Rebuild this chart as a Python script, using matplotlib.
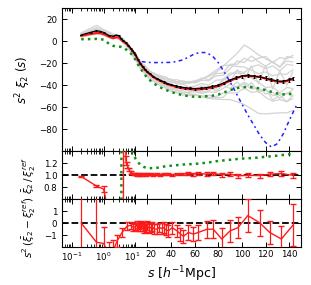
import numpy as np
import matplotlib
matplotlib.use('Agg')
import matplotlib.pyplot as plt
from matplotlib.transforms import ScaledTranslation

# --- top panel: s^2 xi_2(s) ---
s_top = [0.2, 0.4, 0.6, 0.8, 1.0, 1.5, 2.0, 2.5, 3.0, 3.5, 4.0, 5.0, 6.0, 7.0, 8.0, 9.0,
         10, 12, 14, 16, 18, 20, 22, 25, 28, 31,
         34, 37, 40, 44, 48, 52, 56, 60, 65, 70,
         75, 80, 85, 90, 95, 100, 105, 110, 115, 120,
         125, 130, 135, 140, 143]
xi_ref = [5.5, 8.0, 9.3, 8.8, 7.8, 5.0, 4.5, 5.5, 5.0, 2.5, 0.8, -1.5, -4.0, -6.5, -8.5, -10.5,
          -12.5, -16.5, -20, -23, -25.5, -27.7, -29.5, -32, -34, -35.5,
          -37, -38.5, -39.5, -40.7, -41.7, -42.3, -42.8, -43, -42.8, -42.2,
          -41.2, -40, -37.8, -35.3, -33.3, -31.8, -31.3, -31.8, -32.6, -33.6,
          -35, -36.3, -36.5, -35, -34]
xi_ref_err = [0.3, 0.3, 0.3, 0.3, 0.3, 0.3, 0.3, 0.3, 0.3, 0.3, 0.3, 0.3, 0.3, 0.3, 0.3, 0.3,
              0.4, 0.4, 0.4, 0.4, 0.5, 0.5, 0.5, 0.5, 0.6, 0.6,
              0.6, 0.7, 0.7, 0.7, 0.8, 0.8, 0.8, 0.9, 0.9, 1.0,
              1.0, 1.1, 1.1, 1.2, 1.2, 1.3, 1.3, 1.4, 1.4, 1.5,
              1.5, 1.6, 1.6, 1.7, 1.7]
xi_mean = [4.8, 6.5, 7.3, 7.2, 6.3, 3.8, 2.5, 3.5, 3.3, 1.4, -0.2, -2.0, -4.3, -6.7, -8.7, -10.7,
           -12.7, -16.7, -20.3, -23.4, -26, -28.2, -30, -32.6, -34.6, -36.1,
           -37.6, -39.1, -40.2, -41.4, -42.4, -43, -43.6, -43.8, -43.6, -43,
           -42, -40.8, -38.5, -36, -33.8, -31.9, -31.4, -32, -32.5, -34,
           -35.5, -36.8, -37, -35.6, -34.5]

s_green = [0.2, 0.4, 0.6, 0.8, 1.0, 1.5, 2.0, 2.5, 3.0, 3.5, 4.0, 5.0, 6.0, 7.0, 8.0,
           10, 12, 14, 17, 20, 25, 30, 35, 40, 45,
           50, 55, 60, 65, 70, 75, 80, 85, 90, 95,
           100, 105, 110, 115, 120, 125, 130, 135, 140, 143]
xi_green = [1.7, 1.8, 2.0, 1.8, 1.2, -2.5, -4.3, -5.0, -5.0, -5.2, -5.5, -7.5, -9.5, -11, -12.7,
            -17, -21, -24.5, -29, -33.5, -38, -41.5, -44, -46, -47.8,
            -49, -50, -50.5, -50.5, -50, -49.5, -48.5, -46.5, -44.5, -42.8,
            -41.8, -41.5, -42, -43, -44.5, -46, -47.5, -48.3, -48, -47.3]

s_blue = [11, 15, 20, 25, 30, 35, 40, 45, 50, 55,
          60, 65, 70, 75, 80, 85, 90, 95, 100, 105,
          110, 115, 120, 125, 130, 135, 140, 146]
xi_blue = [-17.5, -18.5, -19.3, -19.5, -19.5, -19.4, -19.3, -18.5, -17, -14.5,
           -11.5, -10.3, -10.5, -13.5, -19.5, -28, -37, -47, -57, -67,
           -76, -85, -92, -96, -93, -84, -72, -58.5]

# individual mocks (grey)
s_mock = [0.2, 0.6, 1.0, 2.0, 3.0, 4.0, 6.0, 8.0, 10, 14, 18, 22, 26, 30, 35, 40, 45,
          50, 55, 60, 66, 72, 78, 84, 90, 96, 102, 108, 114, 120, 126, 132, 138, 143]
mock_01 = [6.6, 12.2, 9.5, 5.5, 4.5, 1.5, -4, -8, -12, -18, -24, -27, -30, -31, -34.5, -34.5, -37,
           -36, -37.5, -36, -34.5, -32, -28.5, -23, -17, -11, -3.5, -7.5, -12.5, -16, -19.5, -23, -18, -19]
mock_02 = [4.6, 7.2, 5.5, 3.5, 1.5, -0.5, -7, -12, -17, -24, -30, -33, -37, -40, -41.5, -44.5, -47,
           -47, -49.5, -49, -50.5, -52, -52.5, -53, -53, -55, -57.5, -61.5, -65.5, -66, -65.5, -65, -65, -63]
mock_03 = [7.6, 14.2, 10.5, 6.5, 4.5, 2.5, -3, -9, -11, -19, -22, -27, -31, -31, -32.5, -35.5, -35,
           -37, -38.5, -37, -33.5, -35, -29.5, -29, -21, -21, -15.5, -18.5, -15.5, -14, -19.5, -15, -16, -13]
mock_04 = [3.6, 6.2, 5.5, 2.5, 2.5, -1.5, -6, -13, -16, -25, -29, -35, -37, -38, -42.5, -45.5, -46,
           -49, -48.5, -48, -50.5, -49, -50.5, -47, -47, -47, -42.5, -46.5, -45.5, -51, -54.5, -53, -55, -52]
mock_05 = [6.6, 10.2, 7.5, 5.5, 3.5, 1.5, -5, -9, -14, -20, -24, -29, -33, -33, -36.5, -36.5, -39,
           -39, -41.5, -41, -38.5, -40, -35.5, -35, -29, -29, -29.5, -33.5, -37.5, -42, -41.5, -47, -42, -43]
mock_06 = [4.6, 9.2, 6.5, 4.5, 2.5, 0.5, -6, -10, -15, -22, -28, -31, -35, -36, -39.5, -42.5, -43,
           -43, -45.5, -45, -46.5, -45, -41.5, -36, -31, -27, -28.5, -23.5, -21.5, -25, -22.5, -27, -21, -22]
mock_07 = [5.6, 11.2, 8.5, 4.5, 4.5, 0.5, -4, -10, -13, -19, -25, -28, -30, -33, -34.5, -37.5, -37,
           -39, -37.5, -37, -34.5, -31, -26.5, -22, -22, -23, -23.5, -26.5, -29.5, -28, -31.5, -30, -30, -26]
mock_08 = [4.6, 8.2, 7.5, 3.5, 3.5, -0.5, -5, -11, -14, -23, -27, -32, -34, -38, -39.5, -42.5, -45,
           -45, -47.5, -49, -49.5, -51, -51.5, -51, -45, -41, -37.5, -40.5, -44.5, -44, -49.5, -48, -48, -44]
mock_09 = [6.6, 8.2, 8.5, 4.5, 4.5, 1.5, -3, -9, -12, -20, -26, -29, -31, -34, -37.5, -38.5, -42,
           -42, -41.5, -44, -40.5, -42, -43.5, -34, -37, -26, -35.5, -22.5, -38.5, -22, -43.5, -27, -40, -28]
mock_10 = [5.6, 10.2, 6.5, 3.5, 3.5, -0.5, -7, -11, -16, -21, -27, -30, -34, -35, -36.5, -40.5, -41,
           -44, -42.5, -44, -45.5, -41, -45.5, -40, -43, -37, -43.5, -37.5, -46.5, -43, -53.5, -49, -55, -49]
mock_11 = [4.6, 10.2, 8.5, 5.5, 2.5, 0.5, -4, -8, -13, -19, -23, -28, -29, -32, -32.5, -35.5, -38,
           -38, -36.5, -38, -35.5, -36, -31.5, -31, -25, -18, -19.5, -13.5, -18.5, -23, -18.5, -24, -14, -15]
mock_12 = [5.6, 7.2, 6.5, 3.5, 2.5, -0.5, -5, -11, -15, -22, -28, -33, -35, -39, -40.5, -43.5, -44,
           -47, -46.5, -46, -47.5, -46, -46.5, -43, -39, -42, -38.5, -43.5, -42.5, -48, -46.5, -52, -47, -50]
mocks = [mock_01, mock_02, mock_03, mock_04, mock_05, mock_06,
         mock_07, mock_08, mock_09, mock_10, mock_11, mock_12]

# --- middle panel: ratio ---
s_ratio = [0.2, 0.6, 1.0, 1.5, 2.0, 2.7, 3.8, 4.4, 5.0, 5.5, 6.2, 7.0, 8.0, 9.0,
           10, 11, 12, 13, 14, 15.5, 17, 18.5, 20,
           22.7, 25, 28.3, 31, 33.7, 37.9, 41, 45.2, 50.6, 54.7,
           59, 63, 70.6, 75.7, 83, 90, 96.6, 105, 115, 123.5, 133.4, 143]
ratio_mean = [0.98, 0.82, 0.77, 0.35, 0.05, -0.9, -6.0, 4.0, 1.25, 1.17, 1.10, 1.05, 1.03, 1.02,
              1.02, 1.01, 1.02, 1.01, 1.02, 1.01, 1.02, 1.01, 1.02,
              1.02, 1.01, 1.02, 1.01, 1.02, 1.02, 1.01, 1.02, 1.02, 1.03,
              1.02, 1.03, 1.02, 1.03, 1.01, 1.02, 0.99, 1.00, 0.995, 1.02, 1.03, 1.00]
ratio_err = [0.01, 0.01, 0.05, 0.05, 0.1, 0.2, 0.5, 0.5, 0.08, 0.05, 0.03, 0.02, 0.015, 0.015,
             0.015, 0.015, 0.015, 0.015, 0.015, 0.015, 0.015, 0.015, 0.015,
             0.015, 0.015, 0.015, 0.015, 0.02, 0.02, 0.02, 0.02, 0.02, 0.025,
             0.025, 0.025, 0.03, 0.03, 0.035, 0.035, 0.035, 0.035, 0.035, 0.035, 0.035, 0.04]

s_ratio_g = [0.2, 0.6, 1.0, 2.0, 3.0, 3.5, 4.0, 4.5, 5.5, 7.0, 8.0, 10, 12, 14, 17,
             20, 25, 30, 35, 40, 50, 60, 70, 80, 90, 100, 110, 120, 130, 143]
ratio_green = [0.3, 0.2, 0.15, -0.9, -2.5, -6, 20, 9, 3, 1.45, 1.38, 1.28, 1.22, 1.18, 1.14,
               1.12, 1.12, 1.13, 1.15, 1.16, 1.18, 1.19, 1.21, 1.24, 1.26, 1.28, 1.29, 1.31, 1.33, 1.36]

# --- bottom panel: s^2 (xi_mean - xi_ref) ---
s_diff = [0.2, 0.6, 1.0, 1.5, 2.0, 2.7, 3.8, 5.5, 7.0, 8.5,
          10, 11, 12, 13, 14, 15, 16, 17, 18, 19, 20,
          21.5, 22.7, 24, 26, 28.3, 30, 32, 33.7, 35.5, 37.9,
          41, 45.2, 48, 50.6, 54.7, 59, 63, 70.6, 75.7, 83,
          90, 96.6, 105, 115, 123.5, 133.4, 143]
diff = [0.0, -1.6, -1.7, -2.6, -2.3, -1.46, -0.78, -0.24, -0.2, -0.35,
        -0.3, -0.15, -0.4, -0.2, -0.35, -0.1, -0.3, -0.45, -0.25, -0.4, -0.2,
        -0.45, -0.38, -0.3, -0.5, -0.51, -0.35, -0.45, -0.38, -0.55, -0.65,
        -0.38, -0.65, -0.92, -1.1, -0.78, -0.92, -0.78, -0.51, -0.51, -1.33,
        -0.65, -0.38, 0.63, 0.03, -0.78, -1.33, -0.19]
diff_err = [2.5, 4.0, 1.35, 1.0, 0.9, 0.5, 0.35, 0.3, 0.3, 0.3,
            0.3, 0.3, 0.3, 0.3, 0.3, 0.3, 0.35, 0.35, 0.35, 0.35, 0.35,
            0.35, 0.4, 0.4, 0.4, 0.4, 0.4, 0.45, 0.45, 0.45, 0.5,
            0.5, 0.5, 0.55, 0.55, 0.6, 0.6, 0.65, 0.7, 0.75, 0.9,
            0.9, 0.9, 1.4, 1.1, 0.95, 1.05, 1.75]

xticks = [0.1, 1, 10, 20, 40, 60, 80, 100, 120, 140]
xticklabels = ['$10^{-1}$', '$10^{0}$', '$10^{1}$', '20', '40', '60', '80', '100', '120', '140']
xminor = [0.05, 0.06, 0.07, 0.08, 0.09, 0.2, 0.3, 0.4, 0.5, 0.6, 0.7, 0.8, 0.9,
          2, 3, 4, 5, 6, 7, 8, 9]


# log below s=10, linear above
def fwd(s):
    s = np.asarray(s, dtype=float)
    lg = np.log10(np.where(s > 0, s, 1e-300))
    return np.where(s <= 10, lg, 1 + (s - 10) / 27.0)


def inv(x):
    x = np.asarray(x, dtype=float)
    return np.where(x <= 1, 10 ** np.minimum(x, 1), 10 + (x - 1) * 27.0)


fig = plt.figure(figsize=(3.11, 2.85), dpi=100)
gs = fig.add_gridspec(3, 1, height_ratios=[3, 1, 1], left=0.1994, right=0.968,
                      top=0.972, bottom=0.1333, hspace=0)
ax1 = fig.add_subplot(gs[0])
ax2 = fig.add_subplot(gs[1], sharex=ax1)
ax3 = fig.add_subplot(gs[2], sharex=ax1)

red = '#ff1a1a'

for m in mocks:
    ax1.plot(s_mock, m, color='#d3d3d3', lw=0.9, zorder=1)
ax1.plot(s_green, xi_green, ':', color='#109010', lw=1.8, zorder=3)
ax1.plot(s_blue, xi_blue, color='#2020ff', lw=1.1, dashes=(1.2, 2.2, 2.5, 2.2), zorder=3)
ax1.plot(s_top, xi_mean, color=red, lw=1.6, zorder=4)
ax1.errorbar(s_top, xi_ref, yerr=xi_ref_err, fmt='k-', lw=0.9, elinewidth=0.7,
             capsize=1.0, capthick=0.7, zorder=5)
ax1.set_ylim(-100, 30)
ax1.set_yticks([-80, -60, -40, -20, 0, 20])
ax1.set_ylabel(r'$s^2\ \xi_2\ (s)$', fontsize=8.5)
ax1.yaxis.set_label_coords(-0.12, 0.5)

ax2.plot(s_ratio_g, ratio_green, ':', color='#109010', lw=1.8, zorder=3)
ax2.axhline(1.0, color='k', ls='--', lw=1.3, zorder=2)
ax2.errorbar(s_ratio, ratio_mean, yerr=ratio_err, fmt='-', color=red, lw=1.0,
             elinewidth=0.9, capsize=2, zorder=4)
ax2.set_ylim(0.6, 1.4)
ax2.set_yticks([0.8, 1.0, 1.2])
ax2.set_ylabel(r'$\bar{\xi}_2\,/\,\xi_2^{ref}$', fontsize=7.5)
ax2.yaxis.set_label_coords(-0.1, 0.5)

ax3.axhline(0.0, color='k', ls='--', lw=1.3, zorder=2)
ax3.errorbar(s_diff, diff, yerr=diff_err, fmt='-', color=red, lw=1.0,
             elinewidth=0.9, capsize=2, zorder=4)
ax3.set_ylim(-2, 2)
ax3.set_yticks([-1, 0, 1])
ax3.set_ylabel(r'$s^2\,(\bar{\xi}_2 - \xi_2^{ref})$', fontsize=7.5)
ax3.yaxis.set_label_coords(-0.1, 0.42)

ax1.set_xscale('function', functions=(fwd, inv))
ax1.set_xlim(0.05, 150)
ax3.set_xticks(xticks)
ax3.set_xticklabels(xticklabels)
ax3.set_xticks(xminor, minor=True)
ax3.set_xlabel(r'$s$ [$h^{-1}$Mpc]', fontsize=9, labelpad=1)

for ax in (ax1, ax2, ax3):
    ax.tick_params(which='both', direction='in', top=True, right=True, labelsize=6.2)
    ax.tick_params(which='major', length=3.5, width=0.7)
    ax.tick_params(which='minor', length=2, width=0.6)
ax3.tick_params(axis='x', which='both', pad=2.5)
plt.setp(ax1.get_xticklabels(), visible=False)
plt.setp(ax2.get_xticklabels(), visible=False)

# nudge the two crowded labels at the scale break apart
labs = ax3.get_xticklabels()
labs[2].set_transform(labs[2].get_transform() + ScaledTranslation(-2.5 / 72, 0, fig.dpi_scale_trans))
labs[3].set_transform(labs[3].get_transform() + ScaledTranslation(2.5 / 72, 0, fig.dpi_scale_trans))

fig.savefig('out.png', dpi=100)
